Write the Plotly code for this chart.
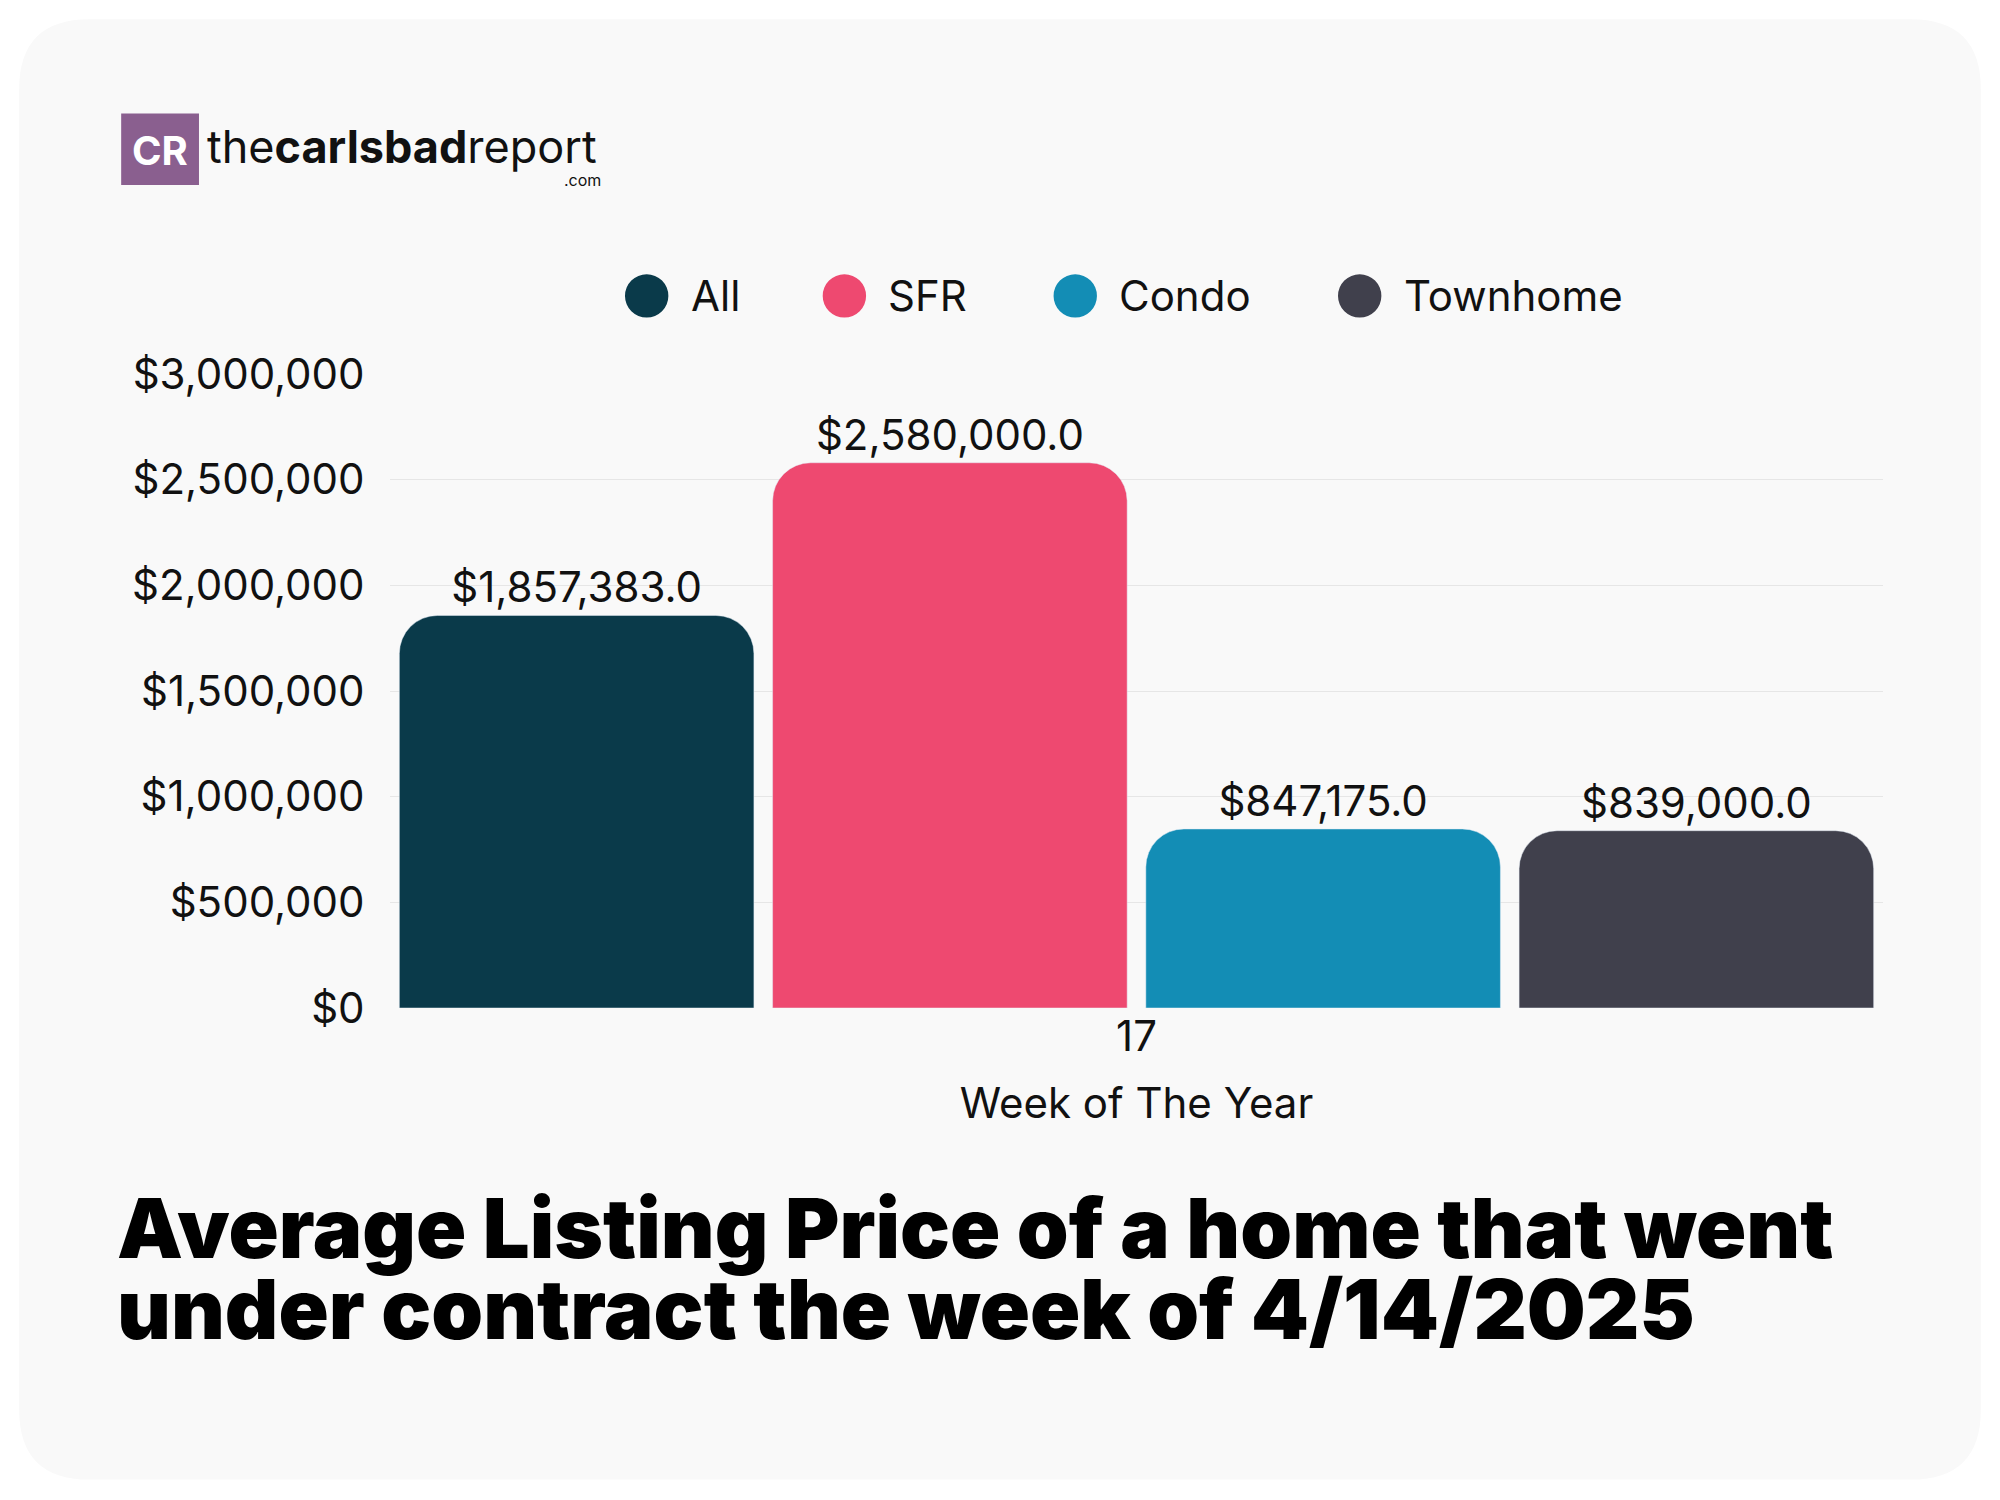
import plotly.graph_objects as go

# data
week = ["17"]
series = ["All", "SFR", "Condo", "Townhome"]
values = [1857383.0, 2580000.0, 847175.0, 839000.0]
colors = ["#0a3a4a", "#ee4970", "#138db5", "#40404c"]
y_ticks = [0, 500000, 1000000, 1500000, 2000000, 2500000, 3000000]

# plot area in layout pixels
L, T, W, H = 382, 366, 1493, 634
K = 2000 / 1568  # reference picture scale


def px(x):
    return (x * K - 8 - L) / W


def py(y):
    return (T + H - (y * K - 8)) / H


fig = go.Figure()
for name, val, col in zip(series, values, colors):
    fig.add_trace(go.Bar(
        x=week, y=[val], name=name, marker_color=col, showlegend=False,
        text=[f"${val:,.1f}"], textposition="outside", cliponaxis=False,
        textfont=dict(size=42, color="#111111"),
    ))

# card with rounded corners
rx, ry = 55 * K / W, 55 * K / H
x0, x1, y0, y1 = px(15), px(1553), py(1160), py(15)
card = (f"M {x0+rx},{y0} L {x1-rx},{y0} Q {x1},{y0} {x1},{y0+ry} L {x1},{y1-ry} "
        f"Q {x1},{y1} {x1-rx},{y1} L {x0+rx},{y1} Q {x0},{y1} {x0},{y1-ry} "
        f"L {x0},{y0+ry} Q {x0},{y0} {x0+rx},{y0} Z")

shapes = [
    dict(type="path", xref="paper", yref="paper", layer="below", path=card,
         fillcolor="#f9f9f9", line=dict(width=0)),
    dict(type="rect", xref="paper", yref="paper",
         x0=px(95), x1=px(156), y0=py(145), y1=py(89),
         fillcolor="#8a5f8f", line=dict(width=0)),
]
annotations = [
    dict(text="<b>CR</b>", x=px(125.5), y=py(118), xref="paper", yref="paper",
         xanchor="center", yanchor="middle", showarrow=False,
         font=dict(size=40, color="white", family="Inter", weight=900)),
    dict(text="the<b>carlsbad</b>report", x=px(161), y=py(115), xref="paper", yref="paper",
         xanchor="left", yanchor="middle", showarrow=False,
         font=dict(size=45, color="#111111", family="Inter")),
    dict(text=".com", x=px(473), y=py(141), xref="paper", yref="paper",
         xanchor="right", yanchor="middle", showarrow=False,
         font=dict(size=16, color="#111111", family="Inter")),
]

# legend drawn by hand with big circles
leg_cx = [507, 662, 843, 1066]
for name, col, cx in zip(series, colors, leg_cx):
    shapes.append(dict(type="circle", xref="paper", yref="paper",
                       x0=px(cx - 17), x1=px(cx + 17), y0=py(249), y1=py(215),
                       fillcolor=col, line=dict(width=0)))
    annotations.append(dict(text=name, x=px(cx + 33), y=py(232), xref="paper", yref="paper",
                            xanchor="left", yanchor="middle", showarrow=False,
                            font=dict(size=42, color="#111111")))

# title
for line, ty in zip(["Average Listing Price of a home that went",
                     "under contract the week of 4/14/2025"], [963, 1026]):
    annotations.append(dict(text=line, x=px(90), y=py(ty), xref="paper", yref="paper",
                            xanchor="left", yanchor="middle", showarrow=False,
                            font=dict(size=83, color="#000000", family="Inter", weight=900)))

fig.update_layout(
    width=2000, height=1500,
    paper_bgcolor="white", plot_bgcolor="#f9f9f9",
    font=dict(family="Inter", color="#111111"),
    margin=dict(l=L, r=2000 - L - W, t=T, b=1500 - T - H),
    barmode="group", bargap=0, bargroupgap=0.05, barcornerradius=38,
    showlegend=False,
    xaxis=dict(tickfont=dict(size=42), showgrid=False, showline=False,
               title=dict(text="Week of The Year", font=dict(size=42), standoff=28)),
    yaxis=dict(range=[0, 3000000], tickvals=y_ticks, tickformat="$,", tickfont=dict(size=42),
               gridcolor="#e6e6e6", zeroline=False, ticklen=16,
               tickcolor="rgba(0,0,0,0)", ticks="outside"),
    shapes=shapes,
    annotations=annotations,
)

fig.write_html("out.html")
